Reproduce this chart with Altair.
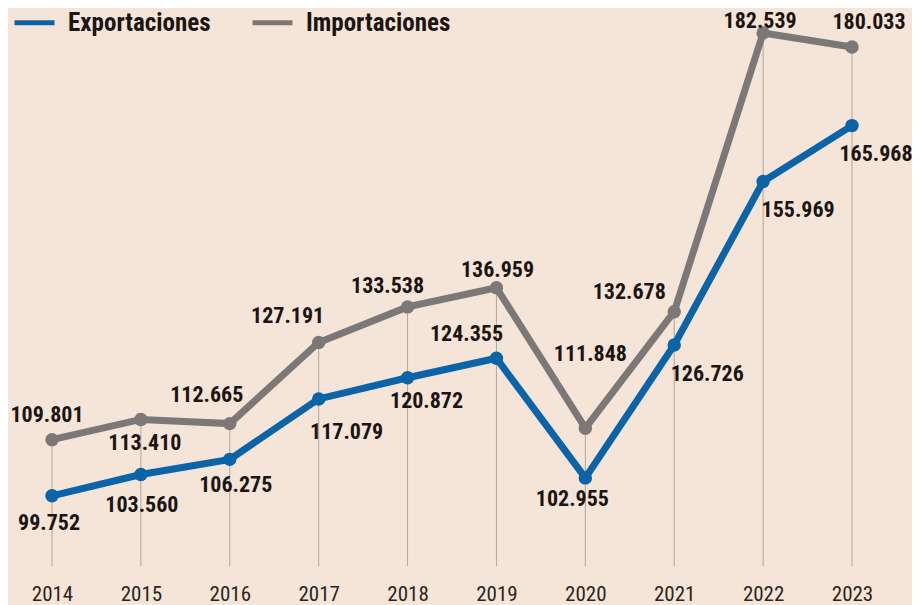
import altair as alt
import pandas as pd

years = list(range(2014, 2024))
exportaciones = [99.752, 103.560, 106.275, 117.079, 120.872, 124.355, 102.955, 126.726, 155.969, 165.968]
importaciones = [109.801, 113.410, 112.665, 127.191, 133.538, 136.959, 111.848, 132.678, 182.539, 180.033]
series_names = ["Exportaciones", "Importaciones"]
series_colors = ["#0b63a8", "#7b7877"]

# pixel offsets of each value label from its point (style)
export_label_offsets = [(-3, 27), (1, 30), (6, 26), (28, 33), (19, 23), (-30, -24), (-13, 21), (33, 29), (35, 29), (24, 28)]
import_label_offsets = [(-5, -25), (4, 24), (-23, -29), (-31, -26), (-20, -21), (1, -18), (5, -74), (-45, -20), (-3, -12), (17, -25)]

FONT = "Roboto Condensed, Open Sans Condensed, sans-serif"
TEXT_COLOR = "#1c1410"
Y_MIN, Y_MAX = 87.2, 187.0

rows = []
for s, vals in zip(series_names, [exportaciones, importaciones]):
    for yr, v in zip(years, vals):
        rows.append({"year": yr, "series": s, "value": v, "label": f"{v:.3f}"})
df = pd.DataFrame(rows)

x = alt.X(
    "year:Q",
    scale=alt.Scale(domain=[2013.505, 2023.675], nice=False, zero=False),
    axis=alt.Axis(values=years, format="d", ticks=False, domain=False, grid=False,
                  labelFont=FONT, labelFontSize=21, labelPadding=17, labelColor="#2a2420",
                  labelBaseline="top", title=None),
)
y = alt.Y("value:Q", scale=alt.Scale(domain=[Y_MIN, Y_MAX], nice=False, zero=False), axis=None)
color_scale = alt.Scale(domain=series_names, range=series_colors)

base = alt.Chart(df)

rules = base.transform_filter(alt.datum.series == "Importaciones").mark_rule(
    color="#b3a69c", strokeWidth=1
).encode(x=x, y=y, y2=alt.Y2(datum=Y_MIN))

lines = base.mark_line(strokeWidth=7).encode(
    x=x, y=y,
    color=alt.Color("series:N", scale=color_scale, legend=alt.Legend(
        orient="none", legendX=4, legendY=-8, direction="horizontal", title=None,
        symbolType="stroke", symbolSize=1600, symbolStrokeWidth=5,
        labelFont=FONT, labelFontSize=25, labelFontWeight="bold", labelColor=TEXT_COLOR,
        labelOffset=11, columnPadding=31, padding=0, labelLimit=300,
    )),
)
points = base.mark_circle(size=180, opacity=1).encode(
    x=x, y=y, color=alt.Color("series:N", scale=color_scale, legend=None)
)

label_layers = []
for s, offs in zip(series_names, [export_label_offsets, import_label_offsets]):
    for yr, (dx, dy) in zip(years, offs):
        label_layers.append(
            base.transform_filter((alt.datum.series == s) & (alt.datum.year == yr))
            .mark_text(dx=dx, dy=dy, font=FONT, fontSize=22, fontWeight="bold", color=TEXT_COLOR)
            .encode(x=x, y=y, text="label:N")
        )

chart = alt.layer(rules, lines, points, *label_layers).properties(
    width=904, height=558,
    autosize=alt.AutoSizeParams(type="none"),
    padding={"left": 0, "top": 0, "right": 0, "bottom": 39},
).configure(background="#f5e5d9").configure_view(stroke=None)

chart.save("out.html", embed_options={"renderer": "svg", "actions": False})
